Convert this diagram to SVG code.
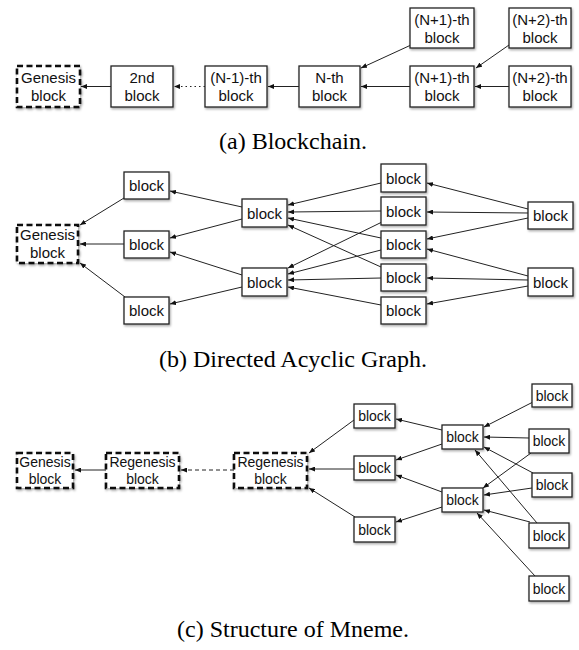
<svg xmlns="http://www.w3.org/2000/svg" width="579" height="650" viewBox="0 0 579 650">
<style>
.bx{fill:#fff;stroke:#222;stroke-width:1.3;filter:url(#sh)}
.dbx{fill:#fff;stroke:#111;stroke-width:2.6;stroke-dasharray:6 3.5;filter:url(#sh)}
.t{font-family:"Liberation Sans",Arial,sans-serif;font-size:15px;fill:#111;text-anchor:middle}
.ts{font-family:"Liberation Sans",Arial,sans-serif;font-size:14px;fill:#111;text-anchor:middle}
.cap{font-family:"Liberation Serif","Times New Roman",serif;font-size:24px;fill:#000;text-anchor:middle}
.e{stroke:#222;stroke-width:1;fill:none;marker-end:url(#ah)}
.dot{stroke-dasharray:1.5 3}
.dash{stroke-dasharray:4 3}
</style>
<defs>
<filter id="sh" x="-20%" y="-20%" width="150%" height="150%">
<feDropShadow dx="1" dy="1.5" stdDeviation="1" flood-color="#000" flood-opacity="0.35"/>
</filter>
<marker id="ah" markerUnits="userSpaceOnUse" markerWidth="7" markerHeight="5" refX="6" refY="2.5" orient="auto">
<path d="M0,0 L6,2.5 L0,5 z" fill="#111"/>
</marker>
</defs>
<rect width="579" height="650" fill="#fff"/>

<g id="connectors">
<!-- (a) -->
<line class="e" x1="111" y1="86.5" x2="81" y2="86.5"/>
<line class="e dot" x1="205" y1="86.5" x2="174" y2="86.5"/>
<line class="e" x1="299" y1="86.5" x2="268" y2="86.5"/>
<line class="e" x1="410" y1="86.5" x2="361" y2="86.5"/>
<line class="e" x1="509" y1="86.5" x2="475" y2="86.5"/>
<line class="e" x1="411" y1="45" x2="361" y2="68"/>
<line class="e" x1="509" y1="45" x2="476" y2="68"/>
<!-- (b) -->
<line class="e" x1="124" y1="198" x2="80" y2="225"/>
<line class="e" x1="124" y1="244" x2="80" y2="244"/>
<line class="e" x1="125" y1="297" x2="80" y2="263"/>
<line class="e" x1="242" y1="207" x2="170" y2="191"/>
<line class="e" x1="242" y1="219" x2="170" y2="238"/>
<line class="e" x1="242" y1="275" x2="170" y2="252"/>
<line class="e" x1="242" y1="287" x2="170" y2="304"/>
<line class="e" x1="381" y1="183" x2="288" y2="205"/>
<line class="e" x1="381" y1="211" x2="288" y2="212"/>
<line class="e" x1="381" y1="238" x2="288" y2="218"/>
<line class="e" x1="381" y1="267" x2="288" y2="225"/>
<line class="e" x1="382" y1="222" x2="288" y2="268"/>
<line class="e" x1="381" y1="250" x2="288" y2="274"/>
<line class="e" x1="381" y1="278" x2="288" y2="280"/>
<line class="e" x1="381" y1="305" x2="288" y2="287"/>
<line class="e" x1="528" y1="209" x2="427" y2="183"/>
<line class="e" x1="528" y1="213" x2="427" y2="212"/>
<line class="e" x1="528" y1="218" x2="427" y2="239"/>
<line class="e" x1="528" y1="276" x2="427" y2="249"/>
<line class="e" x1="528" y1="280" x2="427" y2="278"/>
<line class="e" x1="528" y1="286" x2="427" y2="304"/>
<!-- (c) -->
<line class="e" x1="106" y1="470" x2="75" y2="470"/>
<line class="e dash" x1="234" y1="470" x2="181" y2="470"/>
<line class="e" x1="354" y1="420" x2="309" y2="453"/>
<line class="e" x1="354" y1="469" x2="309" y2="469"/>
<line class="e" x1="355" y1="517" x2="309" y2="488"/>
<line class="e" x1="442" y1="430" x2="396" y2="419"/>
<line class="e" x1="442" y1="444" x2="396" y2="460"/>
<line class="e" x1="442" y1="492" x2="396" y2="475"/>
<line class="e" x1="442" y1="507" x2="396" y2="522"/>
<line class="e" x1="533" y1="402" x2="484" y2="427"/>
<line class="e" x1="529" y1="438" x2="484" y2="437"/>
<line class="e" x1="533" y1="473" x2="484" y2="447"/>
<line class="e" x1="537" y1="523" x2="475" y2="450"/>
<line class="e" x1="531" y1="453" x2="483" y2="488"/>
<line class="e" x1="532" y1="488" x2="484" y2="495"/>
<line class="e" x1="530" y1="522" x2="484" y2="510"/>
<line class="e" x1="535" y1="576" x2="477" y2="513"/>
</g>

<!-- (a) Blockchain -->
<g id="a-genesis"><rect class="dbx" x="17" y="66" width="63" height="41"/><text class="t" x="48.5" y="83">Genesis</text><text class="t" x="48.5" y="101">block</text></g>
<g id="a-2nd"><rect class="bx" x="111" y="66" width="62" height="41"/><text class="t" x="142" y="83">2nd</text><text class="t" x="142" y="101">block</text></g>
<g id="a-nm1"><rect class="bx" x="205" y="66" width="62" height="41"/><text class="t" x="236" y="83">(N-1)-th</text><text class="t" x="236" y="101">block</text></g>
<g id="a-n"><rect class="bx" x="299" y="66" width="61" height="41"/><text class="t" x="329.5" y="83">N-th</text><text class="t" x="329.5" y="101">block</text></g>
<g id="a-np1"><rect class="bx" x="410" y="66" width="64" height="41"/><text class="t" x="442" y="83">(N+1)-th</text><text class="t" x="442" y="101">block</text></g>
<g id="a-np2"><rect class="bx" x="509" y="66" width="62" height="41"/><text class="t" x="540" y="83">(N+2)-th</text><text class="t" x="540" y="101">block</text></g>
<g id="a-np1u"><rect class="bx" x="410" y="8" width="64" height="40"/><text class="t" x="442" y="25">(N+1)-th</text><text class="t" x="442" y="43">block</text></g>
<g id="a-np2u"><rect class="bx" x="509" y="8" width="62" height="40"/><text class="t" x="540" y="25">(N+2)-th</text><text class="t" x="540" y="43">block</text></g>
<text id="cap-a" class="cap" x="293" y="149">(a) Blockchain.</text>

<!-- (b) DAG -->
<g id="b-genesis"><rect class="dbx" x="17" y="225" width="61" height="38"/><text class="t" x="47.5" y="240">Genesis</text><text class="t" x="47.5" y="258">block</text></g>
<g id="b-l1"><rect class="bx" x="124" y="172" width="45" height="27"/><text class="t" x="146.5" y="191">block</text></g>
<g id="b-l2"><rect class="bx" x="124" y="231" width="45" height="27"/><text class="t" x="146.5" y="250">block</text></g>
<g id="b-l3"><rect class="bx" x="124" y="297" width="45" height="27"/><text class="t" x="146.5" y="316">block</text></g>
<g id="b-m1"><rect class="bx" x="242" y="199" width="45" height="28"/><text class="t" x="264.5" y="218.5">block</text></g>
<g id="b-m2"><rect class="bx" x="242" y="268" width="45" height="28"/><text class="t" x="264.5" y="287.5">block</text></g>
<g id="b-c1"><rect class="bx" x="381" y="164" width="45" height="28"/><text class="t" x="403.5" y="183.5">block</text></g>
<g id="b-c2"><rect class="bx" x="381" y="197" width="45" height="28"/><text class="t" x="403.5" y="216.5">block</text></g>
<g id="b-c3"><rect class="bx" x="381" y="231" width="45" height="27"/><text class="t" x="403.5" y="250">block</text></g>
<g id="b-c4"><rect class="bx" x="381" y="264" width="45" height="27"/><text class="t" x="403.5" y="283">block</text></g>
<g id="b-c5"><rect class="bx" x="381" y="297" width="45" height="27"/><text class="t" x="403.5" y="316">block</text></g>
<g id="b-r1"><rect class="bx" x="528" y="202" width="45" height="27"/><text class="t" x="550.5" y="221">block</text></g>
<g id="b-r2"><rect class="bx" x="528" y="268" width="45" height="28"/><text class="t" x="550.5" y="287.5">block</text></g>
<text id="cap-b" class="cap" x="293" y="367">(b) Directed Acyclic Graph.</text>

<!-- (c) Mneme -->
<g id="c-genesis"><rect class="dbx" x="17" y="453" width="56" height="35"/><text class="ts" x="45" y="467">Genesis</text><text class="ts" x="45" y="484">block</text></g>
<g id="c-regen1"><rect class="dbx" x="106" y="453" width="73" height="35"/><text class="ts" x="142.5" y="467">Regenesis</text><text class="ts" x="142.5" y="484">block</text></g>
<g id="c-regen2"><rect class="dbx" x="234" y="453" width="73" height="35"/><text class="ts" x="270.5" y="467">Regenesis</text><text class="ts" x="270.5" y="484">block</text></g>
<g id="c-l1"><rect class="bx" x="354" y="404" width="41" height="24"/><text class="ts" x="374.5" y="421">block</text></g>
<g id="c-l2"><rect class="bx" x="354" y="456" width="41" height="24"/><text class="ts" x="374.5" y="473">block</text></g>
<g id="c-l3"><rect class="bx" x="354" y="517" width="41" height="25"/><text class="ts" x="374.5" y="534.5">block</text></g>
<g id="c-m1"><rect class="bx" x="442" y="425" width="41" height="24"/><text class="ts" x="462.5" y="442">block</text></g>
<g id="c-m2"><rect class="bx" x="442" y="488" width="41" height="24"/><text class="ts" x="462.5" y="505">block</text></g>
<g id="c-r1"><rect class="bx" x="532" y="384" width="40" height="23"/><text class="ts" x="552" y="400.5">block</text></g>
<g id="c-r2"><rect class="bx" x="529" y="429" width="40" height="24"/><text class="ts" x="549" y="446">block</text></g>
<g id="c-r3"><rect class="bx" x="532" y="473" width="40" height="24"/><text class="ts" x="552" y="490">block</text></g>
<g id="c-r4"><rect class="bx" x="529" y="523" width="40" height="25"/><text class="ts" x="549" y="540.5">block</text></g>
<g id="c-r5"><rect class="bx" x="529" y="576" width="40" height="25"/><text class="ts" x="549" y="593.5">block</text></g>
<text id="cap-c" class="cap" x="293" y="637">(c) Structure of Mneme.</text>
</svg>
